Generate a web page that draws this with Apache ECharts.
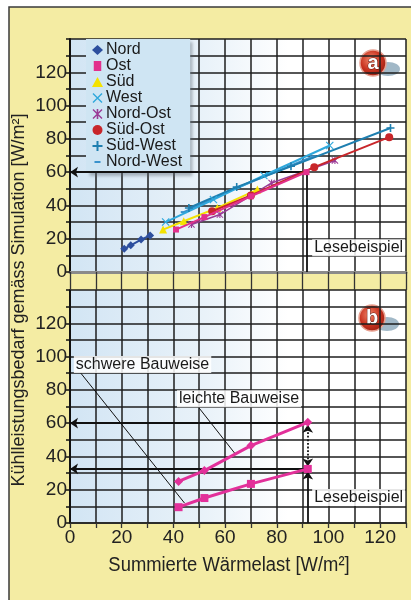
<!DOCTYPE html>
<html><head><meta charset="utf-8">
<script src="https://cdn.jsdelivr.net/npm/echarts@6/dist/echarts.min.js"></script>
<style>html,body{margin:0;padding:0;background:#fff}#c{width:411px;height:600px}</style>
</head><body><div id="c"></div>
<script>
// ---- data (panel a) ----
const nord     = [[21,14],[23.5,16],[27.5,19.5],[31,22]];
const ost      = [[41,25.5],[52,33],[70,45.5],[91.5,60]];
const sued     = [[36,25.5],[44,30.5],[57,38.5],[72.5,49.5]];
const west     = [[37,30],[55.5,43.5],[75,58],[100.5,76]];
const nordOst  = [[47,28.5],[58,34.5],[78,53.5],[102.5,67]];
const suedOst  = [[55,36.5],[70,46],[94.5,63],[123.5,81]];
const suedWest = [[46,38.5],[64.5,51],[85.5,63.5],[124,86.5]];
const nordWest = [[44,36],[64.5,50.5],[94,69.5]];
// ---- data (panel b) ----
const leicht = [[42,25],[52,31.5],[70,46.5],[92,60.5]];
const schwer = [[42,9.5],[52,15],[70,23.5],[92,32.5]];
// ---- axis ticks ----
const xTicks = [0,20,40,60,80,100,120];
const yTicks = [0,20,40,60,80,100,120];
const seriesNames = ['Nord','Ost','Süd','West','Nord-Ost','Süd-Ost','Süd-West','Nord-West'];

const FONT = "'Liberation Sans',Arial,sans-serif";
const PLUS = 'path://M4,0h2v4h4v2h-4v4h-2v-4h-4v-2h4z';
const CROSS = 'path://M0,1L1,0L10,9L9,10Z M9,0L10,1L1,10L0,9Z';
const STAR = 'path://M4.2,0h1.6v10h-1.6z M0,1L1,0L10,9L9,10Z M9,0L10,1L1,10L0,9Z';
const DASH_ICON = 'path://M0,0L0.01,0Z M10,10L10.01,10Z M2,4h6v2h-6z';

const chart = echarts.init(document.getElementById('c'));
const bg = new echarts.graphic.LinearGradient(0,0,1,0,[
  {offset:0,color:'#d2e5f4'},{offset:0.4,color:'#e9f2f9'},{offset:0.65,color:'#ffffff'},{offset:1,color:'#ffffff'}]);
const gridLine = {show:true,lineStyle:{color:'#1e1e1e',width:1.5}};

function xAx(i, labels){
  return {type:'value',gridIndex:i,min:0,max:130,interval:10,
    axisLine:{show:true,onZero:false,lineStyle:{color:i===0?'#8a8a8a':'#222',width:i===0?3:1.5}},
    axisTick:{show:true,length:i===0?18:5,lineStyle:{color:'#333',width:1.3}},
    splitLine:gridLine,
    axisLabel:{show:labels,fontFamily:FONT,fontSize:19,color:'#222',margin:5,
      formatter:v=>xTicks.includes(v)?String(v):''}};
}
function yAx(i){
  return {type:'value',gridIndex:i,min:0,max:140,interval:10,
    axisLine:{show:true,lineStyle:{color:'#111',width:2}},
    axisTick:{show:true,length:4,lineStyle:{color:'#111',width:1.5}},
    splitLine:gridLine,
    axisLabel:{fontFamily:FONT,fontSize:19,color:'#222',margin:3,
      formatter:v=>yTicks.includes(v)?String(v):''}};
}
function ln(name,data,color,symbol,size,z,extra){
  return Object.assign({name,type:'line',xAxisIndex:0,yAxisIndex:0,data,z,
    symbol,symbolSize:size,lineStyle:{color,width:2},itemStyle:{color},
    emphasis:{disabled:true},animation:false},extra||{});
}
const annoLabel = (txt)=>({show:true,position:'right',distance:0,formatter:txt,fontFamily:FONT,
  fontSize:16,color:'#1a1a1a',backgroundColor:'rgba(255,255,255,0.85)',padding:[1,2,0,2]});
const annoPt = (x,y,txt)=>({coord:[x,y],symbol:'rect',symbolSize:1,itemStyle:{color:'rgba(0,0,0,0)'},label:annoLabel(txt)});
const blk = {color:'#111',width:1.8,type:'solid'};

function badge(cx,cy,t){
  return {type:'group',z:50,silent:true,children:[
    {type:'ellipse',shape:{cx:cx+15,cy:cy+6,rx:12,ry:7},style:{fill:'rgba(130,160,180,0.75)'}},
    {type:'circle',shape:{cx,cy,r:13},style:{fill:new echarts.graphic.RadialGradient(0.42,0.38,0.7,[
      {offset:0,color:'#f2876a'},{offset:0.55,color:'#c8321f'},{offset:1,color:'#8e1a10'}]),stroke:'#e8a090',lineWidth:1.5}},
    {type:'text',x:cx,y:cy,style:{text:t,fontFamily:FONT,fontWeight:'bold',fontSize:20,fill:'#fff',
      align:'center',verticalAlign:'middle',stroke:'#5a1008',lineWidth:1}}
  ]};
}

const option = {
  animation:false,
  grid:[
    {left:70,top:39,width:336,height:233,show:true,backgroundColor:bg,borderWidth:0},
    {left:70,top:290,width:336,height:233,show:true,backgroundColor:bg,borderWidth:0}
  ],
  xAxis:[xAx(0,false),xAx(1,true)],
  yAxis:[yAx(0),yAx(1)],
  legend:{
    orient:'vertical',left:86,top:39,itemGap:0,itemWidth:11,itemHeight:10,selectedMode:false,
    backgroundColor:'#cfe5f3',padding:[3,8,3,6],
    shadowColor:'rgba(90,100,110,0.45)',shadowBlur:3,shadowOffsetX:3,shadowOffsetY:3,
    textStyle:{fontFamily:FONT,fontSize:16,color:'#1a1a1a',lineHeight:15.5,padding:[0,0,0,-2]},
    data:[
      {name:'Nord',icon:'diamond'},{name:'Ost',icon:'path://M2,1h6v8h-6z'},{name:'Süd',icon:'triangle'},
      {name:'West',icon:CROSS},{name:'Nord-Ost',icon:STAR},{name:'Süd-Ost',icon:'circle'},
      {name:'Süd-West',icon:PLUS},{name:'Nord-West',icon:DASH_ICON}]
  },
  series:[
    ln('Nord',nord,'#2d4f9e','diamond',8,5),
    ln('Ost',ost,'#e2308c','rect',6,9,{markLine:{silent:true,animation:false,symbol:['none','none'],symbolSize:8,label:{show:false},lineStyle:blk,
      data:[
        [{coord:[91.5,60],symbol:'none'},{coord:[0,60],symbol:'arrow'}],
        [{coord:[91.5,60],symbol:'none'},{coord:[91.5,0],symbol:'none'}]
      ]},
      markPoint:{silent:true,animation:false,data:[annoPt(93.5,14.5,'Lesebeispiel')]}}),
    ln('Süd',sued,'#f4e200','triangle',8,6),
    ln('West',west,'#2fa8dc',CROSS,8,7),
    ln('Nord-Ost',nordOst,'#9a3a96',STAR,7,4,{lineStyle:{color:'#9a3a96',width:1.5}}),
    ln('Süd-Ost',suedOst,'#c8262a','circle',8,8),
    ln('Süd-West',suedWest,'#1e7fb0',PLUS,8,7),
    ln('Nord-West',nordWest,'#3a92cc','rect',[6,2],6),
    {name:'leicht',type:'line',xAxisIndex:1,yAxisIndex:1,data:leicht,symbol:'diamond',symbolSize:9,z:5,
      lineStyle:{color:'#e2309a',width:3},itemStyle:{color:'#e2309a'},emphasis:{disabled:true},
      markLine:{silent:true,animation:false,symbolSize:8,label:{show:false},lineStyle:blk,
        data:[
          [{coord:[92,60],symbol:'none'},{coord:[0,60],symbol:'arrow'}],
          [{coord:[92,32.5],symbol:'none'},{coord:[0,32.5],symbol:'arrow'}],
          [{coord:[92,34],symbol:'arrow'},{coord:[92,59],symbol:'arrow',lineStyle:{type:'dotted'}}],
          [{coord:[92,0],symbol:'none'},{coord:[92,31],symbol:'arrow'}],
          [{coord:[4.2,90],symbol:'none',lineStyle:{width:1}},{coord:[44.3,12],symbol:'none'}],
          [{coord:[50,69],symbol:'none',lineStyle:{width:1}},{coord:[63.7,42],symbol:'none'}]
        ]},
      markPoint:{silent:true,animation:false,data:[
        annoPt(1.3,95.2,'schwere Bauweise'),annoPt(41.2,74.7,'leichte Bauweise'),annoPt(93.5,15.3,'Lesebeispiel')]}},
    {name:'schwer',type:'line',xAxisIndex:1,yAxisIndex:1,data:schwer,symbol:'rect',symbolSize:8,z:5,
      lineStyle:{color:'#e2309a',width:3},itemStyle:{color:'#e2309a'},emphasis:{disabled:true}}
  ],
  graphic:[
    {type:'rect',z:-100,shape:{x:9,y:7,width:420,height:620},style:{fill:'#f4eca3',stroke:'#3a3a3a',lineWidth:1.5},silent:true},
    {type:'text',x:19,y:300,rotation:Math.PI/2,silent:true,
      style:{text:'Kühlleistungsbedarf gemäss Simulation [W/m²]',fontFamily:FONT,fontSize:18,fill:'#222',align:'center',verticalAlign:'middle'}},
    {type:'text',x:229,y:565,scaleX:0.92,silent:true,
      style:{text:'Summierte Wärmelast [W/m²]',fontFamily:FONT,fontSize:20,fill:'#222',align:'center',verticalAlign:'middle'}},
    badge(373,63,'a'),badge(372,318,'b')
  ]
};
chart.setOption(option);
</script></body></html>
